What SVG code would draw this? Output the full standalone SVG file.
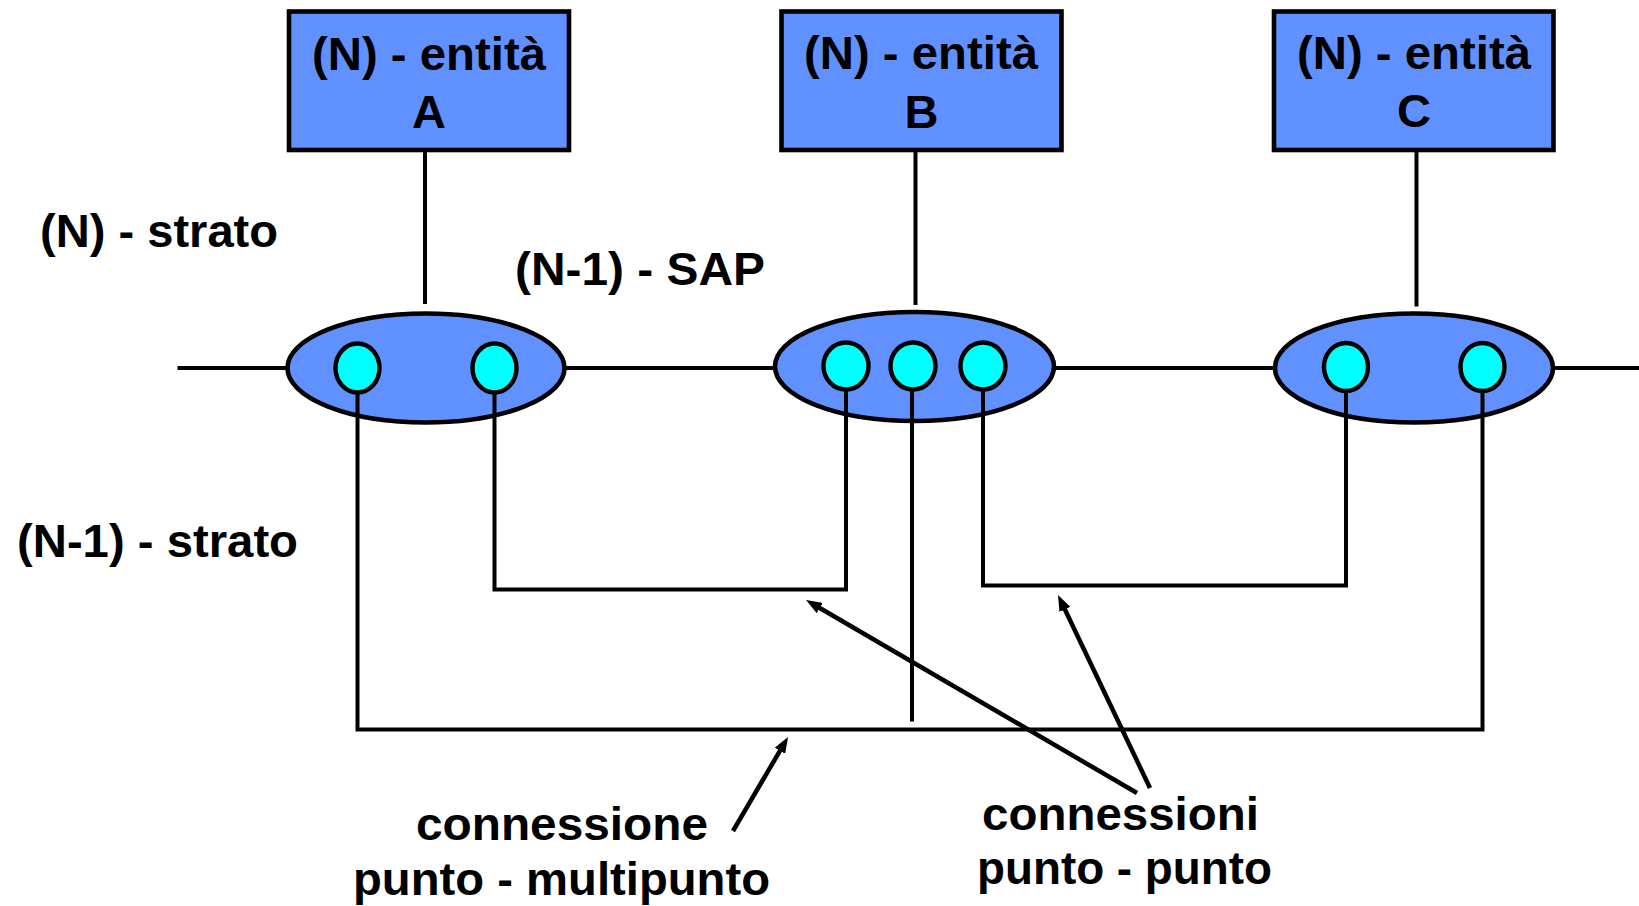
<svg xmlns="http://www.w3.org/2000/svg" width="1639" height="906" viewBox="0 0 1639 906">
  <defs>
    <style>
      .box { fill: #6190ff; stroke: #000; stroke-width: 4.6; }
      .sap { fill: #6190ff; stroke: #000; stroke-width: 4.6; }
      .pt { fill: #00ffff; stroke: #000; stroke-width: 4.4; }
      .ln { fill: none; stroke: #000; stroke-width: 4; }
      .arr { fill: none; stroke: #000; stroke-width: 4.5; marker-end: url(#head); }
      text { font-family: "Liberation Sans", Arial, sans-serif; font-weight: bold; fill: #000; font-size: 47px; }
    </style>
    <marker id="head" viewBox="0 0 16 12" markerWidth="16" markerHeight="12" refX="6" refY="6" orient="auto" markerUnits="userSpaceOnUse">
      <path d="M0,0 L16,6 L0,12 z" fill="#000"/>
    </marker>
  </defs>

  <rect width="1639" height="906" fill="#fff"/>

  <!-- layer labels -->
  <g id="labels">
    <text x="40" y="247" textLength="238" lengthAdjust="spacingAndGlyphs">(N) - strato</text>
    <text x="515" y="285" textLength="250" lengthAdjust="spacingAndGlyphs">(N-1) - SAP</text>
    <text x="17" y="557" textLength="281" lengthAdjust="spacingAndGlyphs">(N-1) - strato</text>
    <text x="416" y="840" textLength="292" lengthAdjust="spacingAndGlyphs">connessione</text>
    <text x="353" y="895" textLength="417" lengthAdjust="spacingAndGlyphs">punto - multipunto</text>
    <text x="982" y="830" textLength="277" lengthAdjust="spacingAndGlyphs">connessioni</text>
    <text x="977" y="884" textLength="295" lengthAdjust="spacingAndGlyphs">punto - punto</text>
  </g>

  <!-- (N-1) layer line, between the SAP groups -->
  <g id="layer-line">
    <path class="ln" d="M177.5,368 H290 M562,368 H778 M1051,368 H1278 M1550,368 H1639"/>
  </g>

  <!-- (N) entities -->
  <g id="entity-a">
    <rect class="box" x="289" y="11.5" width="280" height="138.5"/>
    <text x="312" y="70" textLength="234" lengthAdjust="spacingAndGlyphs">(N) - entità</text>
    <text x="429" y="128" text-anchor="middle">A</text>
  </g>
  <g id="entity-b">
    <rect class="box" x="781.5" y="11.5" width="280" height="138.5"/>
    <text x="804" y="68.5" textLength="234" lengthAdjust="spacingAndGlyphs">(N) - entità</text>
    <text x="921.5" y="127.5" text-anchor="middle">B</text>
  </g>
  <g id="entity-c">
    <rect class="box" x="1274" y="11.5" width="279.5" height="138.5"/>
    <text x="1297" y="68.5" textLength="234" lengthAdjust="spacingAndGlyphs">(N) - entità</text>
    <text x="1414" y="127" text-anchor="middle">C</text>
  </g>

  <!-- (N-1) SAP groups -->
  <g id="sap-a">
    <ellipse class="sap" cx="426" cy="368" rx="138.5" ry="54.5"/>
    <ellipse class="pt" cx="357.5" cy="368" rx="22" ry="24.5"/>
    <ellipse class="pt" cx="494.5" cy="368" rx="22" ry="24.5"/>
  </g>
  <g id="sap-b">
    <ellipse class="sap" cx="914.5" cy="366.5" rx="139.5" ry="54.5"/>
    <ellipse class="pt" cx="846" cy="366" rx="22.5" ry="23.5"/>
    <ellipse class="pt" cx="913" cy="366" rx="22.5" ry="23.5"/>
    <ellipse class="pt" cx="983" cy="366" rx="22.5" ry="23.5"/>
  </g>
  <g id="sap-c">
    <ellipse class="sap" cx="1414" cy="368" rx="139" ry="54.5"/>
    <ellipse class="pt" cx="1346" cy="367" rx="22" ry="24"/>
    <ellipse class="pt" cx="1482.5" cy="367" rx="22" ry="24"/>
  </g>

  <!-- connectors -->
  <g id="connectors">
    <!-- entity to SAP -->
    <path class="ln" d="M425,152 V304"/>
    <path class="ln" d="M915.5,152 V305"/>
    <path class="ln" d="M1416.5,152 V306.5"/>
    <!-- point-to-multipoint connection -->
    <path class="ln" d="M357.5,392.5 V729.5 H1482.5 V391"/>
    <path class="ln" d="M912,389.5 V721.5"/>
    <!-- point-to-point connections -->
    <path class="ln" d="M494.5,392.5 V589.5 H846 V389.5"/>
    <path class="ln" d="M983,389.5 V585.5 H1346 V391"/>
    <!-- label arrows -->
    <path class="arr" d="M1137,793 L814.6,605"/>
    <path class="arr" d="M1150,788 L1062.3,604"/>
    <path class="arr" d="M733,831 L783,745.6"/>
  </g>
</svg>
